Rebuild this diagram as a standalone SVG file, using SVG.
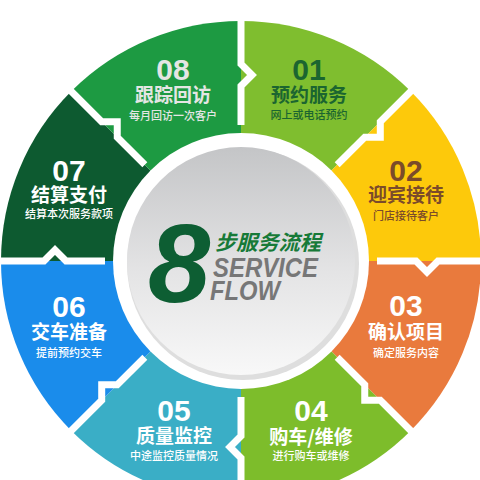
<svg xmlns="http://www.w3.org/2000/svg" width="480" height="480" viewBox="0 0 480 480">
<defs>
<linearGradient id="disk" x1="0" y1="0" x2="0" y2="1">
<stop offset="0" stop-color="#c4c5c7"/>
<stop offset="0.55" stop-color="#e4e4e5"/>
<stop offset="1" stop-color="#f8f8f8"/>
</linearGradient>
<polyline id="div" points="241,125 241,86 252,75 241,64 241,12" fill="none" stroke="#ffffff" stroke-width="7" stroke-linejoin="miter" stroke-miterlimit="10"/>
</defs>
<style>
.num{font-family:"Liberation Sans",Arial,sans-serif;font-weight:bold;font-size:30px;text-anchor:middle}
.ttl{font-family:"Noto Sans CJK SC","Noto Sans",sans-serif;font-weight:bold;font-size:19px;text-anchor:middle}
.sub{font-family:"Noto Sans CJK SC","Noto Sans",sans-serif;font-weight:500;font-size:11px;text-anchor:middle}
.w{fill:#ffffff}
</style>
<rect width="480" height="480" fill="#ffffff"/>
<g id="n01">
<path d="M241,261 L241,21 A240,240 0 0 1 410.71,91.29 Z" fill="#7fbe2f"/>
<text class="num" x="309" y="80" fill="#1b6530">01</text>
<text class="ttl" x="309" y="102" fill="#1b6530">预约服务</text>
<text class="sub" x="309" y="119" fill="#1b6530">网上或电话预约</text>
</g>
<g id="n02">
<path d="M241,261 L410.71,91.29 A240,240 0 0 1 481,261 Z" fill="#fdc90b"/>
<text class="num" x="406" y="181" fill="#7b4b2a">02</text>
<text class="ttl" x="406" y="202" fill="#7b4b2a">迎宾接待</text>
<text class="sub" x="406" y="220" fill="#7b4b2a">门店接待客户</text>
</g>
<g id="n03">
<path d="M241,261 L481,261 A240,240 0 0 1 410.71,430.71 Z" fill="#e97a3d"/>
<text class="num w" x="406" y="316">03</text>
<text class="ttl w" x="406" y="339">确认项目</text>
<text class="sub w" x="406" y="357">确定服务内容</text>
</g>
<g id="n04">
<path d="M241,261 L410.71,430.71 A240,240 0 0 1 241,501 Z" fill="#7dbd2b"/>
<text class="num w" x="311" y="421">04</text>
<text class="ttl w" x="311" y="444">购车/维修</text>
<text class="sub w" x="311" y="460">进行购车或维修</text>
</g>
<g id="n05">
<path d="M241,261 L241,501 A240,240 0 0 1 71.29,430.71 Z" fill="#3aaec6"/>
<text class="num w" x="174" y="421">05</text>
<text class="ttl w" x="174" y="443">质量监控</text>
<text class="sub w" x="174" y="460">中途监控质量情况</text>
</g>
<g id="n06">
<path d="M241,261 L71.29,430.71 A240,240 0 0 1 1,261 Z" fill="#1a8ceb"/>
<text class="num w" x="69" y="317">06</text>
<text class="ttl w" x="69" y="339">交车准备</text>
<text class="sub w" x="69" y="357">提前预约交车</text>
</g>
<g id="n07">
<path d="M241,261 L1,261 A240,240 0 0 1 71.29,91.29 Z" fill="#0d5a30"/>
<text class="num w" x="69" y="181">07</text>
<text class="ttl w" x="69" y="202">结算支付</text>
<text class="sub w" x="69" y="218">结算本次服务款项</text>
</g>
<g id="n08">
<path d="M241,261 L71.29,91.29 A240,240 0 0 1 241,21 Z" fill="#1d9a42"/>
<text class="num" x="173" y="80" fill="#e4e6e4">08</text>
<text class="ttl" x="173" y="102" fill="#e4e6e4">跟踪回访</text>
<text class="sub" x="173" y="120" fill="#e4e6e4">每月回访一次客户</text>
</g>
<g id="connectors">
<use href="#div"/>
<use href="#div" transform="rotate(45 241 261)"/>
<use href="#div" transform="rotate(90 241 261)"/>
<use href="#div" transform="rotate(135 241 261)"/>
<use href="#div" transform="rotate(180 241 261)"/>
<use href="#div" transform="rotate(225 241 261)"/>
<use href="#div" transform="rotate(270 241 261)"/>
<use href="#div" transform="rotate(315 241 261)"/>
</g>
<g id="center">
<circle cx="241" cy="261" r="128" fill="#ffffff"/>
<circle cx="243" cy="264" r="116" fill="#dedede"/>
<circle cx="241" cy="261" r="114" fill="url(#disk)"/>
<text x="148" y="302" font-family="Liberation Sans, Arial, sans-serif" font-weight="bold" font-style="italic" font-size="112" fill="#0d5e33">8</text>
<text x="215" y="250" font-family="Noto Sans CJK SC, sans-serif" font-weight="bold" font-style="italic" font-size="21" fill="#177a38" textLength="106" lengthAdjust="spacingAndGlyphs">步服务流程</text>
<text x="213" y="277" font-family="Liberation Sans, Arial, sans-serif" font-weight="bold" font-style="italic" font-size="27" fill="#777777" textLength="105" lengthAdjust="spacingAndGlyphs">SERVICE</text>
<text x="210" y="300" font-family="Liberation Sans, Arial, sans-serif" font-weight="bold" font-style="italic" font-size="27" fill="#777777" textLength="70" lengthAdjust="spacingAndGlyphs">FLOW</text>
</g>
</svg>
